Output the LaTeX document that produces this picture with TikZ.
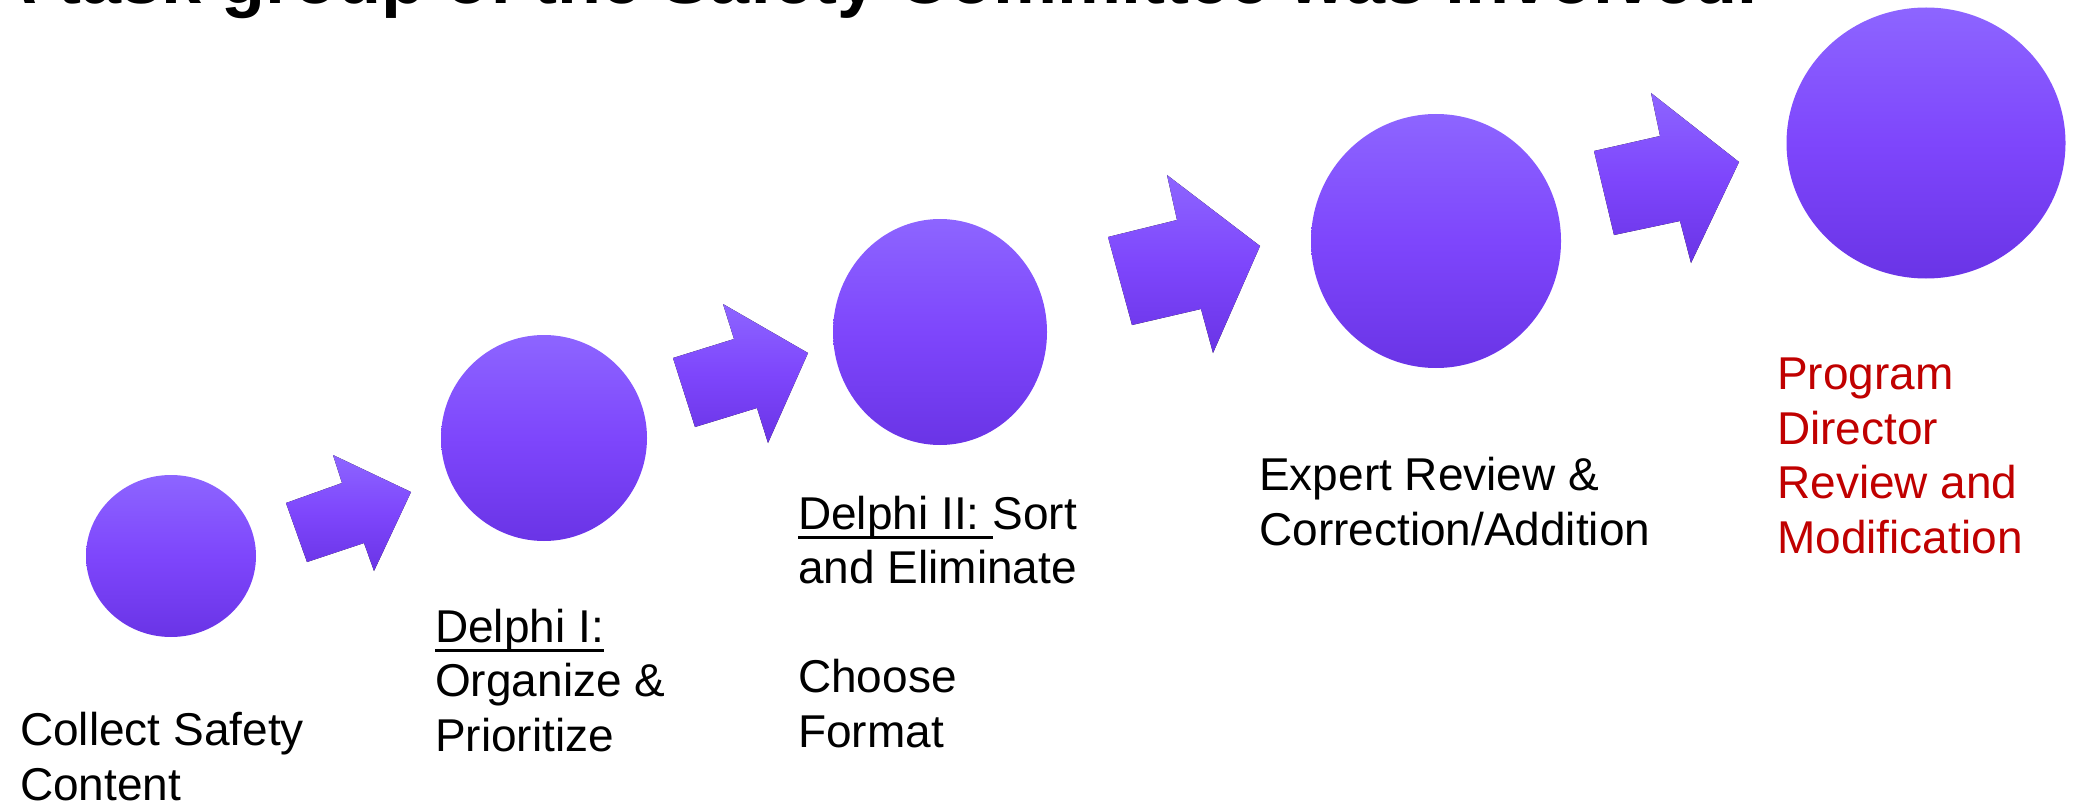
\documentclass[tikz,border=0pt]{standalone}
\usepackage{fontspec}
\setmainfont{Liberation Sans}
\usetikzlibrary{shapes.geometric}
\definecolor{ptop}{RGB}{141,101,255}
\definecolor{pmid}{RGB}{126,70,252}
\definecolor{pbot}{RGB}{106,52,230}
\definecolor{progred}{RGB}{192,0,0}
\newcommand\myul[1]{\setbox0\hbox{#1}\rlap{\rule[-9.5pt]{\wd0}{2.5pt}}\box0}
\begin{document}
\begin{tikzpicture}[x=1pt,y=-1pt,
  stepcircle/.style={ellipse, inner sep=0pt, draw=none, top color=ptop, bottom color=pbot, middle color=pmid},
  blockarrow/.style={draw=none, top color=ptop, bottom color=pbot, middle color=pmid},
  txt/.style={anchor=base west, inner sep=0pt, align=left, font=\fontsize{46}{54.5}\selectfont},
  ]
\useasboundingbox (0,0) rectangle (2077,805);
\clip (0,0) rectangle (2077,805);
\node[anchor=base west, inner sep=0pt, font=\fontsize{72}{80}\selectfont\bfseries] (title) at (-15,4) {A task group of the Safety Committee was involved.};
% circles
\node[stepcircle, minimum width=170pt, minimum height=162pt] (c1) at (171,556) {};
\node[stepcircle, minimum width=206pt, minimum height=206pt] (c2) at (544,438) {};
\node[stepcircle, minimum width=214pt, minimum height=226pt] (c3) at (940,332) {};
\node[stepcircle, minimum width=250pt, minimum height=254pt] (c4) at (1436,241) {};
\node[stepcircle, minimum width=279pt, minimum height=271pt] (c5) at (1926,143) {};
% block arrows
\fill[blockarrow] (286,503) -- (342,483) -- (333,455) -- (411,492) -- (374,571) -- (364,543) -- (307,562) -- cycle;
\fill[blockarrow] (673,358) -- (734,339) -- (723,304) -- (808,353) -- (768,443) -- (757,408) -- (695,427) -- cycle;
\fill[blockarrow] (1108,237) -- (1177,220) -- (1167,175) -- (1260,246) -- (1213,353) -- (1201,309) -- (1132,325) -- cycle;
\fill[blockarrow] (1594,151) -- (1660,136) -- (1651,93) -- (1739,162) -- (1691,263) -- (1680,221) -- (1614,235) -- cycle;
% labels (anchor is the baseline of the last line)
\node[txt] (t1) at (20,800) {Collect Safety\\Content};
\node[txt] (t2) at (435,751) {\myul{Delphi I:}\\Organize \&\\Prioritize};
\node[txt] (t3) at (798,747) {\myul{Delphi II:\ }Sort\\and Eliminate\\[54.5pt]Choose\\Format};
\node[txt] (t4) at (1259,545) {Expert Review \&\\Correction/Addition};
\node[txt, text=progred] (t5) at (1777,553) {Program\\Director\\Review and\\Modification};
\end{tikzpicture}
\end{document}
